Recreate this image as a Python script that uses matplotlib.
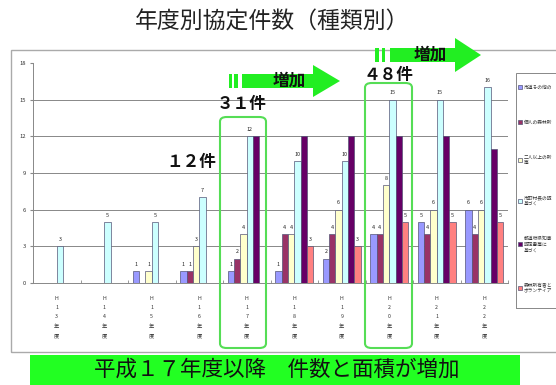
import matplotlib
matplotlib.use("Agg")
import matplotlib.pyplot as plt
import numpy as np
from matplotlib.patches import Rectangle, Polygon, FancyBboxPatch

plt.rcParams['font.family'] = ['Noto Sans CJK JP', 'DejaVu Sans']

# ---- data ----
categories = ['H13年度', 'H14年度', 'H15年度', 'H16年度', 'H17年度',
              'H18年度', 'H19年度', 'H20年度', 'H21年度', 'H22年度']
series_names = ['市道その他の', '個人の森林所',
                '二人以上の所\n等', '市町村長の認\n基づく',
                '都道府県知事\n認定書等に\n基づく', '森林所有者と\nボランティア']
s1 = [0, 0, 1, 1, 1, 1, 2, 4, 5, 6]
s2 = [0, 0, 0, 1, 2, 4, 4, 4, 4, 4]
s3 = [0, 0, 1, 3, 4, 4, 6, 8, 6, 6]
s4 = [3, 5, 5, 7, 12, 10, 10, 15, 15, 16]
s5 = [0, 0, 0, 0, 12, 12, 12, 12, 12, 11]
s6 = [0, 0, 0, 0, 0, 3, 3, 5, 5, 5]
series = [s1, s2, s3, s4, s5, s6]
colors = ['#9999FF', '#993366', '#FFFFCC', '#CCFFFF', '#660066', '#FF8080']
show_labels = [True, True, True, True, False, True]
yticks = [0, 3, 6, 9, 12, 15, 18]
title = '年度別協定件数（種類別）'
banner = '平成１７年度以降　件数と面積が増加'

W, H = 556, 385
fig = plt.figure(figsize=(W / 100, H / 100), dpi=100)
fig.patch.set_facecolor('white')

def P(x, y):
    return (x / W, 1 - y / H)

ax = fig.add_axes([33 / W, 1 - 283 / H, (508 - 33) / W, (283 - 63) / H])
x = np.arange(len(categories))
bw = 1 / 7.5
bars = []
for i, (vals, c) in enumerate(zip(series, colors)):
    b = ax.bar(x + (i - 2.5) * bw, vals, bw, color=c, edgecolor='#555577',
               linewidth=0.5, label=series_names[i], zorder=3)
    bars.append(b)
    if show_labels[i]:
        for xi, v in zip(x + (i - 2.5) * bw, vals):
            if v > 0:
                ax.text(xi, v + 0.35, str(v), ha='center', va='bottom',
                        fontsize=3.9, color='#222222', zorder=4)

ax.set_xlim(-0.5, len(categories) - 0.5)
ax.set_ylim(0, 18)
ax.set_yticks(yticks)
ax.set_yticklabels([str(v) for v in yticks], fontsize=4.2, color='#333333')
for v in yticks[1:-1]:
    ax.axhline(v, color='#888888', linewidth=0.7, zorder=1)
ax.set_xticks(x)
ax.set_xticklabels(['\n'.join(list(c)) for c in categories], fontsize=3.8,
                   linespacing=2.1, color='#333333')
ax.set_xticks(np.arange(-0.5, len(categories)), minor=True)
ax.tick_params(axis='x', which='major', length=0, pad=9)
ax.tick_params(axis='x', which='minor', length=2.5, direction='in', color='#888888')
ax.tick_params(axis='y', length=2, color='#888888', pad=3)
for s in ['top', 'right']:
    ax.spines[s].set_visible(False)
for s in ['left', 'bottom']:
    ax.spines[s].set_color('#888888')
    ax.spines[s].set_linewidth(0.7)

# outer chart frame
fig.patches.append(Rectangle(P(11, 352), (560 - 11) / W, (352 - 50) / H,
                             transform=fig.transFigure, fill=False,
                             edgecolor='#aaaaaa', linewidth=1.0))

# legend frame + legend
fig.patches.append(Rectangle(P(516, 308), (560 - 516) / W, (308 - 73) / H,
                             transform=fig.transFigure, fill=False,
                             edgecolor='#888888', linewidth=0.7))
leg = fig.legend(handles=bars, labels=series_names, loc='upper left',
                 bbox_to_anchor=P(518, 85), fontsize=3.4, handlelength=0.9,
                 handleheight=0.9, handletextpad=0.4, labelspacing=6.3,
                 borderpad=0, frameon=False, borderaxespad=0)
for t in leg.get_texts():
    t.set_color('#333333')

# title
fig.text(*P(272, 22), title, ha='center', va='center', fontsize=16.5, color='#222222')

# bottom banner
fig.patches.append(Rectangle(P(30, 386), (520 - 30) / W, (386 - 355) / H,
                             transform=fig.transFigure, facecolor='#22FF22',
                             edgecolor='none'))
fig.text(*P(277, 370), banner, ha='center', va='center', fontsize=15.5, color='#111111')

# green boxes
for (x0, x1, y0, y1) in [(220, 266, 117, 348), (365, 412, 83, 348)]:
    fig.patches.append(FancyBboxPatch(P(x0, y1), (x1 - x0) / W, (y1 - y0) / H,
                                      boxstyle='round,pad=0,rounding_size=0.012',
                                      transform=fig.transFigure, fill=False,
                                      edgecolor='#55DD55', linewidth=1.5, zorder=5))

# arrows
def striped_arrow(xs1, xs2, xb, xh, xt, yc, bh, hh, color='#22EE22'):
    for (a, b) in [xs1, xs2]:
        fig.patches.append(Rectangle(P(a, yc + bh), (b - a) / W, 2 * bh / H,
                                     transform=fig.transFigure, facecolor=color,
                                     edgecolor='none'))
    pts = [P(xb, yc - bh), P(xh, yc - bh), P(xh, yc - hh), P(xt, yc),
           P(xh, yc + hh), P(xh, yc + bh), P(xb, yc + bh)]
    fig.patches.append(Polygon(pts, closed=True, transform=fig.transFigure,
                               facecolor=color, edgecolor='none'))

striped_arrow((229, 232), (234, 237.5), 242, 313, 340, 81, 7, 16)
striped_arrow((375, 378.5), (381.5, 385), 390, 455, 481, 55, 7, 17)
fig.text(*P(289, 81), '増加', ha='center', va='center', fontsize=12,
         fontweight='bold', color='#111111')
fig.text(*P(430, 55), '増加', ha='center', va='center', fontsize=12,
         fontweight='bold', color='#111111')

# count labels
fig.text(*P(242, 104), '３１件', ha='center', va='center', fontsize=12,
         fontweight='bold', color='#111111')
fig.text(*P(388, 75), '４８件', ha='center', va='center', fontsize=12,
         fontweight='bold', color='#111111')
fig.text(*P(191, 162), '１２件', ha='center', va='center', fontsize=12,
         fontweight='bold', color='#111111')

fig.savefig('out.png', dpi=100, facecolor='white')
